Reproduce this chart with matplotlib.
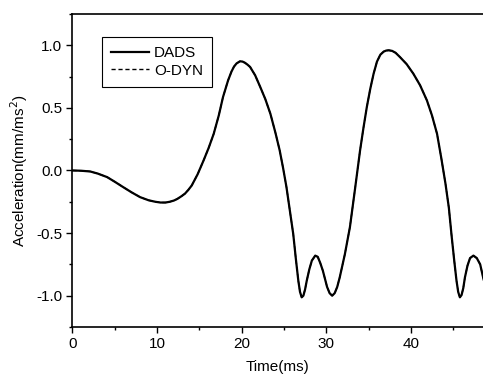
import matplotlib
matplotlib.use('Agg')
import matplotlib.pyplot as plt
from matplotlib.ticker import MultipleLocator

plt.rcParams['font.family'] = ['Liberation Sans', 'DejaVu Sans']

# Values (time in ms, acceleration in mm/ms^2)
time_ms = [0.0, 1.0, 2.1, 3.0, 4.1, 5.0, 6.0, 7.0, 8.0, 9.0, 9.8, 10.4, 11.0, 11.5,
           12.0, 12.4, 12.9, 13.3, 13.7, 14.1, 14.8, 15.5, 16.1, 16.7, 17.3, 17.8,
           18.4, 18.8, 19.1, 19.4, 19.8, 20.1, 20.4, 20.7, 21.0, 21.6, 22.2, 22.8,
           23.4, 24.0, 24.5, 24.9, 25.3, 25.7, 26.1, 26.4, 26.7, 26.9, 27.1, 27.3,
           27.5, 27.7, 28.0, 28.3, 28.7, 29.0, 29.3, 29.6, 30.1, 30.4, 30.7, 31.0,
           31.3, 31.6, 32.2, 32.8, 33.4, 34.0, 34.4, 34.8, 35.2, 35.6, 36.0, 36.4,
           36.8, 37.1, 37.4, 37.8, 38.2, 38.7, 39.5, 40.3, 41.1, 41.9, 42.5, 43.1,
           43.6, 44.1, 44.5, 44.8, 45.1, 45.4, 45.6, 45.8, 46.0, 46.2, 46.4, 46.7,
           47.0, 47.4, 47.8, 48.2, 48.6]
dads = [0.0, -0.002, -0.008, -0.025, -0.053, -0.09, -0.133, -0.175, -0.213, -0.238,
        -0.25, -0.256, -0.256, -0.25, -0.24, -0.227, -0.205, -0.185, -0.155, -0.12,
        -0.03, 0.08, 0.18, 0.293, 0.44, 0.587, 0.72, 0.79, 0.83, 0.855, 0.872,
        0.87, 0.86, 0.845, 0.827, 0.76, 0.667, 0.57, 0.453, 0.3, 0.16, 0.02, -0.133,
        -0.32, -0.507, -0.7, -0.88, -0.97, -1.013, -1.0, -0.95, -0.88, -0.79, -0.72,
        -0.68, -0.69, -0.74, -0.8, -0.93, -0.98, -1.0, -0.98, -0.93, -0.853, -0.67,
        -0.453, -0.15, 0.16, 0.34, 0.507, 0.65, 0.773, 0.87, 0.925, 0.95, 0.958,
        0.96, 0.955, 0.94, 0.907, 0.85, 0.773, 0.68, 0.56, 0.44, 0.293, 0.1, -0.107,
        -0.3, -0.507, -0.7, -0.88, -0.97, -1.013, -0.995, -0.94, -0.853, -0.76,
        -0.7, -0.68, -0.7, -0.75, -0.87]
odyn = list(dads)

fig = plt.figure(figsize=(4.83, 3.78), dpi=100)
ax = fig.add_axes([0.150, 0.135, 0.8503, 0.828])

ax.plot(time_ms, dads, color='black', lw=1.6, label='DADS')
ax.plot(time_ms, odyn, color='black', lw=1.0, ls=(0, (3, 2)), label='O-DYN')

ax.set_xlim(0, 48.55)
ax.set_ylim(-1.25, 1.25)
ax.xaxis.set_major_locator(MultipleLocator(10))
ax.xaxis.set_minor_locator(MultipleLocator(5))
ax.yaxis.set_major_locator(MultipleLocator(0.5))
ax.yaxis.set_minor_locator(MultipleLocator(0.25))
ax.yaxis.set_major_formatter(plt.FuncFormatter(lambda v, p: f'{v:.1f}'))
ax.tick_params(which='major', direction='out', length=4, width=1, labelsize=11)
ax.tick_params(which='minor', direction='out', length=2.5, width=1)
ax.spines['right'].set_visible(False)
for s in ['left', 'bottom', 'top']:
    ax.spines[s].set_linewidth(1.2)

ax.set_xlabel('Time(ms)', fontsize=11, labelpad=6)
ax.set_ylabel('Acceleration(mm/ms$^2$)', fontsize=11, labelpad=4)

leg = ax.legend(loc='upper left', bbox_to_anchor=(0.072, 0.927), borderaxespad=0,
                fancybox=False, edgecolor='black', framealpha=1, fontsize=11,
                handlelength=2.5, handletextpad=0.3, borderpad=0.6, labelspacing=0.25)
leg.get_frame().set_linewidth(0.8)

plt.savefig('out.png', dpi=100)
